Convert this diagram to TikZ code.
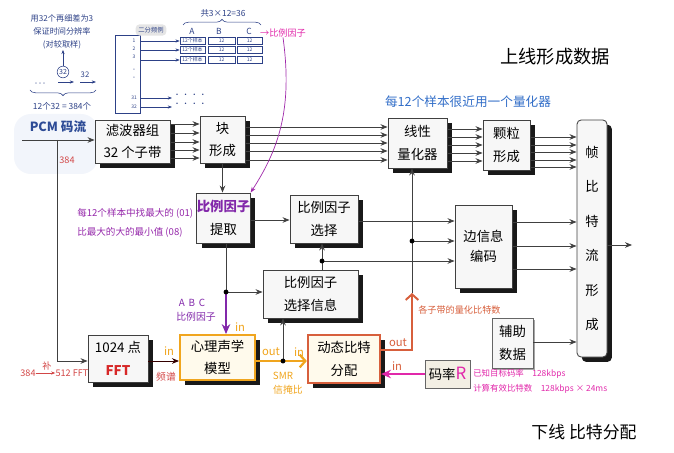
\documentclass[tikz,border=0pt]{standalone}
\usepackage{fontspec}
\setmainfont{Noto Sans CJK SC}
\usetikzlibrary{arrows.meta, shadows, decorations.pathreplacing, positioning}

\definecolor{pcmbleu}{RGB}{45,75,150}
\definecolor{lueur}{RGB}{242,245,251}
\definecolor{encre}{RGB}{45,65,135}
\definecolor{stylo}{RGB}{50,110,200}
\definecolor{violetf}{RGB}{130,40,170}
\definecolor{orangef}{RGB}{240,165,30}
\definecolor{rougeo}{RGB}{215,95,60}
\definecolor{magentaf}{RGB}{225,40,170}
\definecolor{rougefft}{RGB}{215,40,40}
\definecolor{rougeanno}{RGB}{210,70,70}
\definecolor{creme}{RGB}{255,250,236}
\definecolor{beige}{RGB}{243,239,228}

\begin{document}
\begin{tikzpicture}[x=0.025cm, y=-0.025cm,
    boitesimple/.style={draw=black!75, line width=0.6pt, fill=gray!6, align=center,
      font=\fontsize{9.5}{16}\selectfont, inner sep=0pt},
    boite/.style={boitesimple,
      drop shadow={shadow xshift=1.2mm, shadow yshift=-1.2mm, fill=black, opacity=0.9}},
    fleche/.style={-{Stealth[length=5pt,width=4pt]}, line width=0.6pt, black!75},
    trait/.style={line width=0.6pt, black!75},
    point/.style={circle, fill=black, inner sep=0pt, minimum size=3.5pt},
    note/.style={font=\fontsize{6.5}{8}\selectfont, inner sep=0pt},
    croquis/.style={encre, line width=0.4pt},
  ]
  \useasboundingbox (0,0) rectangle (674,452);

  % Lueur PCM
  \fill[lueur, rounded corners=12pt] (14,114) rectangle (98,174);

  % Blocs
  \node[boite, minimum width=1.875cm, minimum height=1.075cm] (filtre) at (132.5,141.5) {滤波器组\\32 个子带};
  \node[boite, minimum width=1.125cm, minimum height=1.175cm] (bloc) at (222.5,139.5) {块\\形成};
  \node[boite, minimum width=1.475cm, minimum height=1.25cm] (quant) at (417.5,143) {线性\\量化器};
  \node[boite, minimum width=1.175cm, minimum height=1.25cm] (grain) at (506.5,145) {颗粒\\形成};
  \node[boite, rounded corners=3pt, minimum width=0.75cm, minimum height=5.925cm,
    font=\fontsize{9.5}{24.5}\selectfont] (trame) at (592,238.5) {帧\\比\\特\\流\\形\\成};
  \node[boite, minimum width=1.325cm, minimum height=1.25cm] (extrait) at (223.5,218)
    {\textcolor{violetf}{\bfseries 比例因子}\\提取};
  \node[boite, minimum width=1.7cm, minimum height=1.2cm] (choix) at (324,219) {比例因子\\选择};
  \node[boite, minimum width=2.375cm, minimum height=1.2cm] (info) at (310.5,294) {比例因子\\选择信息};
  \node[boite, minimum width=1.425cm, minimum height=2.075cm,
    font=\fontsize{9.5}{14}\selectfont] (bord) at (483.5,246.5) {边信息\\编码};
  \node[boite, minimum width=1.5cm, minimum height=1.175cm] (fft) at (118,358.5)
    {1024 点\\\textcolor{rougefft}{\bfseries FFT}};
  \node[boite, draw=orangef, line width=1.4pt, fill=creme, minimum width=1.875cm,
    minimum height=1.125cm] (psy) at (217.5,357.5) {心理声学\\模型};
  \node[boite, draw=rougeo, line width=1.6pt, fill=creme, minimum width=1.8cm,
    minimum height=1.2cm] (alloc) at (344,359) {动态比特\\分配};
  \node[boitesimple, draw=black!60, fill=beige, minimum width=1.125cm, minimum height=0.7cm] (debit)
    at (447.5,374) {码率\textcolor{magentaf}{\fontsize{12}{12}\selectfont R}};
  \node[boitesimple, draw=black!60, minimum width=1.025cm, minimum height=1.25cm,
    drop shadow={shadow xshift=0.6mm, shadow yshift=-0.6mm, fill=black, opacity=0.35}] (aux)
    at (512.5,343) {辅助\\数据};

  % Chaine du haut
  \coordinate (entree) at (22,140);
  \coordinate (bifpcm) at (57,140);
  \draw[fleche] (entree) -- (filtre.west |- entree);
  \draw[fleche] (bifpcm) |- (fft.west |- 0,361);
  \foreach \y in {124,133,142,150,158}
    \draw[fleche] (filtre.east |- 0,\y) -- (bloc.west |- 0,\y);
  \foreach \y in {127,135,143,151,160}
    \draw[fleche] (bloc.east |- 0,\y) -- (quant.west |- 0,\y);
  \foreach \y in {129,137,145,153,161}
    \draw[fleche] (quant.east |- 0,\y) -- (grain.west |- 0,\y);
  \foreach \y in {137,145,152,160,167}
    \draw[fleche] (grain.east |- 0,\y) -- (trame.west |- 0,\y);
  \coordinate (sortie) at (632,245);
  \draw[fleche] (trame.east |- sortie) -- (sortie);

  % Facteurs d'echelle
  \coordinate (jq) at (412,241);
  \coordinate (bitsq) at (412,293);
  \coordinate (ji) at (322,261);
  \coordinate (je) at (226,292);
  \coordinate (smr) at (283,361);
  \draw[fleche] (bloc.south) -- (bloc.south |- extrait.north);
  \draw[fleche] (extrait.east |- 0,220) -- (choix.west |- 0,220);
  \draw[fleche] (choix.east |- 0,221) -- (bord.west |- 0,221);
  \draw[fleche] (bitsq) -- (bitsq |- quant.south);
  \draw[fleche] (jq) -- (bord.west |- jq);
  \draw[trait] (info.north -| ji) -- (ji);
  \draw[fleche] (ji) -- (ji |- choix.south);
  \draw[fleche] (ji) -- (bord.west |- ji);
  \draw[trait] (extrait.south -| je) -- (je);
  \draw[fleche] (je) -- (info.west |- je);
  \draw[violetf, line width=1.4pt, -{Stealth[length=7pt,width=6pt]}] (je) -- (psy.north -| je);

  % Chaine du bas
  \draw[fleche, black!80!red] (fft.east |- smr) -- (psy.west |- smr);
  \draw[orangef, line width=1.6pt, -{Straight Barb[length=4pt,width=9pt]}] (psy.east |- smr) -- (alloc.west |- smr);
  \draw[fleche] (smr) -- (smr |- info.south);
  \draw[rougeo, line width=1.4pt, -{Straight Barb[length=4pt,width=9pt]}] (alloc.east |- 0,350) -| (bitsq);
  \draw[magentaf, line width=1.4pt, -{Stealth[length=7pt,width=6pt]}] (debit.west) -- (alloc.east |- debit.west);
  \draw[fleche] (aux.east |- 0,342) -- (trame.west |- 0,342);
  \foreach \y in {222,246,269}
    \draw[fleche] (bord.east |- 0,\y) -- (trame.west |- 0,\y);

  % Points de jonction
  \node[point] (pq) at (jq) {};
  \node[point] (pi) at (ji) {};
  \node[point] (pe) at (je) {};
  \node[point] (ps) at (smr) {};

  % Labels
  \node[font=\bfseries\fontsize{9}{11}\selectfont, text=pcmbleu] (pcm) at (58,127) {PCM 码流};
  \node[note, text=rougeanno] (n384) at (67,160) {384};
  \node[font=\fontsize{9}{11}\selectfont, text=stylo] (quantnote) at (468,102) {每12个样本很近用一个量化器};
  \node[font=\fontsize{13}{13}\selectfont] (haut) at (555,57) {上线形成数据};
  \node[font=\fontsize{12}{12}\selectfont] (bas) at (584,432) {下线 比特分配};
  \node[note, text=violetf!80!magentaf, align=left, anchor=west, font=\fontsize{6.8}{13.5}\selectfont]
    (maxnote) at (77,222.5) {每12个样本中找最大的 (01)\\比最大的大的最小值 (08)};
  \node[note, text=violetf, font=\fontsize{7}{8}\selectfont] (abc) at (192,303) {A\, B\, C};
  \node[note, text=violetf, font=\fontsize{7}{8}\selectfont] (abcfac) at (196,317) {比例因子};
  \node[note, text=orangef, font=\fontsize{8}{8}\selectfont] (inpsy) at (240,327) {in};
  \node[note, text=orangef, font=\fontsize{8}{8}\selectfont] (inspec) at (169,351) {in};
  \node[note, text=rougeanno, font=\fontsize{7}{8}\selectfont] (spectre) at (166,377) {频谱};
  \node[note, text=orangef, font=\fontsize{8}{8}\selectfont] (outpsy) at (271,352) {out};
  \node[note, text=orangef, font=\fontsize{8}{8}\selectfont] (inalloc) at (299,352) {in};
  \node[note, text=orangef, font=\fontsize{7}{8}\selectfont] (smrtxt) at (283,376) {SMR};
  \node[note, text=orangef, font=\fontsize{7}{8}\selectfont] (smrnom) at (288,390) {信掩比};
  \node[note, text=rougeo, font=\fontsize{8}{8}\selectfont] (outalloc) at (398,343) {out};
  \node[note, text=rougeo, font=\fontsize{8}{8}\selectfont] (indebit) at (397,366) {in};
  \node[note, text=rougeo, anchor=west, font=\fontsize{6.5}{8}\selectfont] (bitsnote) at (418,310) {各子带的量化比特数};
  \node[note, text=magentaf, anchor=west, align=left, font=\fontsize{6}{10.6}\selectfont] (debitnote) at (473,381.5)
    {已知目标码率\quad 128kbps\\计算有效比特数\quad 128kbps × 24ms};
  \node[note, text=rougeanno] (fft384) at (28,373) {384};
  \node[note, text=rougeanno] (fftbu) at (47,366) {补};
  \node[note, text=rougeanno] (fft512) at (72,373) {512 FFT};
  \draw[rougeanno, -{Stealth[length=3pt]}, line width=0.4pt] (fft384.east) -- (fft512.west);

  % Croquis du haut
  \node[note, text=encre, align=center, font=\fontsize{5.8}{9.5}\selectfont] (remarque) at (62,32)
    {用32个再细差为3\\保证时间分辨率\\(对较取样)};
  \node[croquis, draw, circle, inner sep=0.6pt, font=\fontsize{5}{5}\selectfont, text=encre] (cercle) at (63,72) {32};
  \draw[croquis, -{Stealth[length=3pt]}] (cercle) -- (remarque.south -| cercle);
  \draw[croquis, -{Stealth[length=3pt]}] (58,82) -- (74,82);
  \node[note, text=encre, font=\fontsize{5.5}{6}\selectfont] (trente) at (85,75) {32};
  \draw[croquis, -{Stealth[length=3pt]}] (80,82) -- (96,82);
  \node[note, text=encre, font=\fontsize{5}{6}\selectfont] (tirets) at (40,84) {- - -};
  \draw[croquis, decorate, decoration={brace, mirror, amplitude=4pt}] (30,90) -- (96,90);
  \node[note, text=encre, font=\fontsize{6}{7}\selectfont] (total) at (62,106) {12个32 = 384个};

  \node[croquis, draw, minimum width=0.625cm, minimum height=1.95cm] (sousb) at (127.5,74) {};
  \foreach \n/\y in {1/41, 2/49, 3/57, ·/70, ·/78, 31/98, 32/107}
    \node[note, text=encre, font=\fontsize{3.5}{4}\selectfont] at (134,\y) {\n};
  \node[note, fill=gray!20, rounded corners=3pt, inner sep=2pt, text=encre, font=\fontsize{4.5}{5}\selectfont]
    (bipart) at (151,30) {二分频例};
  \foreach \r/\y in {1/41, 2/50, 3/60} {
    \node[croquis, draw, minimum width=0.625cm, minimum height=0.18cm, inner sep=0pt,
      font=\fontsize{3.5}{4}\selectfont, text=encre] (a\r) at (192.5,\y) {12个样本};
    \node[croquis, draw, minimum width=0.67cm, minimum height=0.18cm, inner sep=0pt,
      font=\fontsize{3.5}{4}\selectfont, text=encre] (b\r) at (221.5,\y) {12};
    \node[croquis, draw, minimum width=0.62cm, minimum height=0.18cm, inner sep=0pt,
      font=\fontsize{3.5}{4}\selectfont, text=encre] (c\r) at (249.5,\y) {12};
    \draw[croquis, -{Stealth[length=3pt]}] (sousb.east |- a\r.west) -- (a\r.west);
  }
  \foreach \y in {98,107} {
    \draw[croquis, -{Stealth[length=3pt]}] (sousb.east |- 0,\y) -- (172,\y);
    \node[note, text=encre, font=\fontsize{5}{5}\selectfont] at (190,\y-2) {· · · ·};
  }
  \node[note, text=encre, font=\fontsize{6}{6}\selectfont] (colA) at (192,31) {A};
  \node[note, text=encre, font=\fontsize{6}{6}\selectfont] (colB) at (219,31) {B};
  \node[note, text=encre, font=\fontsize{6}{6}\selectfont] (colC) at (249,31) {C};
  \draw[croquis, decorate, decoration={brace, amplitude=4pt}] (183,25) -- (261,25);
  \node[note, text=encre, font=\fontsize{6}{6}\selectfont] (somme) at (223,13) {共3×12=36};
  \node[note, text=magentaf, font=\fontsize{6.5}{7}\selectfont] (verfac) at (283,33) {→比例因子};
  \draw[violetf!70!magentaf, line width=0.5pt, -{Stealth[length=4pt]}]
    (verfac.south) .. controls (293,110) and (278,150) .. (extrait.north east);
\end{tikzpicture}
\end{document}
